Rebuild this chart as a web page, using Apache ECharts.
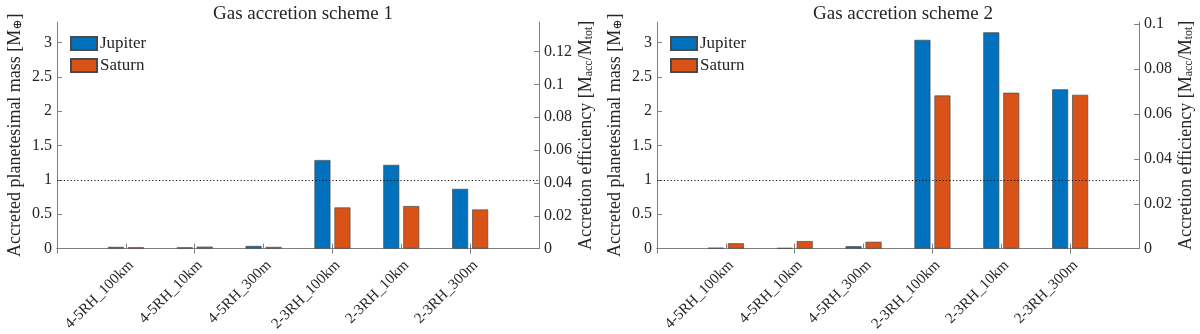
<!DOCTYPE html>
<html>
<head>
<meta charset="utf-8">
<script src="https://cdn.jsdelivr.net/npm/echarts@6/dist/echarts.min.js"></script>
<style>
html, body { margin: 0; padding: 0; background: #fff; }
#container { width: 1200px; height: 334px; }
</style>
</head>
<body>
<div id="container"></div>
<script>
// runs, with empty slots at both ends like the matlab axis (0..7)
var categories = ['4-5RH_100km', '4-5RH_10km', '4-5RH_300m', '2-3RH_100km', '2-3RH_10km', '2-3RH_300m'];
var titles = ['Gas accretion scheme 1', 'Gas accretion scheme 2'];

// scheme 1
var jupiter1 = [0.025, 0.019, 0.039, 1.29, 1.22, 0.87];
var saturn1 = [0.020, 0.029, 0.025, 0.60, 0.62, 0.57];
// scheme 2
var jupiter2 = [0.014, 0.010, 0.035, 3.04, 3.15, 2.32];
var saturn2 = [0.078, 0.110, 0.100, 2.23, 2.27, 2.24];

var massMax = 3.3;
var effMax = [0.138, 0.101];

var font = '"Liberation Serif", "DejaVu Serif", serif';
var textColor = '#262626';
var lineColor = '#808080';

function pad(arr) {
	return ['-'].concat(arr, ['-']);
}

var cats = pad(categories);

var dom = document.getElementById("container");
var myChart = echarts.init(dom);

var grids = [
	{left: 57, right: 661, top: 22, bottom: 84},
	{left: 657, right: 61, top: 22, bottom: 84}
];

var xAxes = [];
var yAxes = [];
var series = [];
var legends = [];
var titleList = [];

for (var g = 0; g < 2; g++) {
	// bottom axis with labels
	xAxes.push({
		type: 'category',
		gridIndex: g,
		data: cats,
		boundaryGap: false,
		axisLine: {lineStyle: {color: lineColor, width: 1}},
		axisTick: {inside: true, length: 5, lineStyle: {color: lineColor}},
		axisLabel: {
			rotate: 45,
			margin: 9,
			verticalAlign: 'top',
			fontFamily: font,
			fontSize: 15,
			color: textColor,
			formatter: function(v) { return v === '-' ? '' : v; }
		},
		splitLine: {show: false}
	});
	// top mirror axis (box on)
	xAxes.push({
		type: 'category',
		gridIndex: g,
		position: 'top',
		data: cats,
		boundaryGap: false,
		axisLine: {lineStyle: {color: lineColor, width: 1}},
		axisTick: {inside: true, length: 5, lineStyle: {color: lineColor}},
		axisLabel: {show: false},
		splitLine: {show: false}
	});
	yAxes.push({
		type: 'value',
		gridIndex: g,
		min: 0,
		max: massMax,
		interval: 0.5,
		name: 'Accreted planetesimal mass [M{s|⊕}]',
		nameLocation: 'middle',
		nameGap: 33,
		nameTextStyle: {
			fontFamily: font,
			fontSize: 18,
			color: textColor,
			rich: {s: {fontFamily: font, fontSize: 12, color: textColor, padding: [6, 0, 0, 0]}}
		},
		axisLine: {show: true, lineStyle: {color: lineColor, width: 1}},
		axisTick: {show: true, inside: true, length: 5, lineStyle: {color: lineColor}},
		axisLabel: {fontFamily: font, fontSize: 16, color: textColor, margin: 5, showMaxLabel: false},
		splitLine: {show: false}
	});
	yAxes.push({
		type: 'value',
		gridIndex: g,
		position: 'right',
		min: 0,
		max: effMax[g],
		interval: 0.02,
		name: 'Accretion efficiency [M{s|acc}/M{s|tot}]',
		nameLocation: 'middle',
		nameGap: 38,
		nameRotate: 90,
		nameTextStyle: {
			fontFamily: font,
			fontSize: 18,
			color: textColor,
			rich: {s: {fontFamily: font, fontSize: 12, color: textColor, padding: [6, 0, 0, 0]}}
		},
		axisLine: {show: true, lineStyle: {color: lineColor, width: 1}},
		axisTick: {show: true, inside: true, length: 5, lineStyle: {color: lineColor}},
		axisLabel: {fontFamily: font, fontSize: 16, color: textColor, margin: 5, showMaxLabel: false},
		splitLine: {show: false}
	});

	var jup = g === 0 ? jupiter1 : jupiter2;
	var sat = g === 0 ? saturn1 : saturn2;

	series.push({
		name: 'Jupiter',
		type: 'bar',
		xAxisIndex: g * 2,
		yAxisIndex: g * 2,
		data: pad(jup),
		barWidth: 16,
		barGap: '25%',
		itemStyle: {color: '#0072BD', borderColor: '#4a4a4a', borderWidth: 0.7},
		emphasis: {disabled: true},
		markLine: {
			silent: true,
			symbol: 'none',
			label: {show: false},
			lineStyle: {color: '#111', width: 1, type: [1.2, 2.2]},
			data: [{yAxis: 1}]
		}
	});
	series.push({
		name: 'Saturn',
		type: 'bar',
		xAxisIndex: g * 2,
		yAxisIndex: g * 2,
		data: pad(sat),
		barWidth: 16,
		barGap: '25%',
		itemStyle: {color: '#D95319', borderColor: '#4a4a4a', borderWidth: 0.7},
		emphasis: {disabled: true}
	});

	legends.push({
		orient: 'vertical',
		left: grids[g].left + 13,
		top: 35,
		padding: 0,
		icon: 'rect',
		itemWidth: 26,
		itemHeight: 13,
		itemGap: 5,
		selectedMode: false,
		textStyle: {fontFamily: font, fontSize: 17, color: textColor, padding: [0, 0, 0, -2]},
		data: ['Jupiter', 'Saturn']
	});

	titleList.push({
		text: titles[g],
		left: g === 0 ? 298 : 898,
		top: 0,
		textAlign: 'center',
		textStyle: {fontFamily: font, fontSize: 19, fontWeight: 'normal', color: textColor}
	});
}

option = {
	animation: false,
	backgroundColor: '#fff',
	title: titleList,
	legend: legends,
	grid: grids,
	xAxis: xAxes,
	yAxis: yAxes,
	series: series
};

if (option && typeof option === "object") {
	myChart.setOption(option, true);
}
</script>
</body>
</html>
